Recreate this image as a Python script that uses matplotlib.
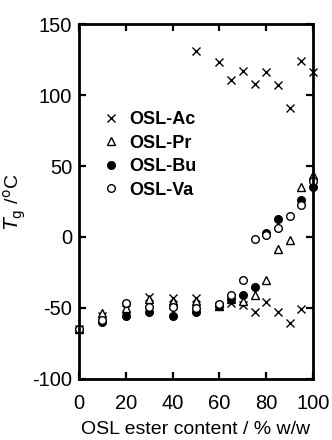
import matplotlib
matplotlib.use('Agg')
import matplotlib.pyplot as plt
import numpy as np

plt.rcParams['font.family'] = ['Liberation Sans', 'DejaVu Sans']

# OSL-Ac shows two transitions
ac_low_x = [0, 10, 20, 30, 40, 50, 60, 65, 70, 75, 80, 85, 90, 95]
ac_low_y = [-65, -56, -51, -42.5, -43.2, -43, -48.6, -46.5, -48, -53, -46, -52.6, -60.4, -51]
ac_high_x = [50, 60, 65, 70, 75, 80, 85, 90, 95, 100]
ac_high_y = [131, 123.5, 111, 117, 107.7, 116, 107, 91, 124, 116]

pr_x = [0, 10, 20, 30, 40, 50, 60, 65, 70, 75, 80, 85, 90, 95, 100]
pr_y = [-65, -53.5, -50, -44, -45, -45, -49, -44, -45, -41, -30.3, -8.7, -2, 35.5, 44]

bu_x = [0, 10, 20, 30, 40, 50, 60, 65, 70, 75, 80, 85, 95, 100]
bu_y = [-65, -60, -56, -53, -56, -52.7, -49, -44, -41, -35.5, 3, 12.5, 26, 35.4]

va_x = [0, 10, 20, 30, 40, 50, 60, 65, 70, 75, 80, 85, 90, 95, 100]
va_y = [-65, -58.5, -46.7, -49.5, -49.5, -50, -47, -41, -30, -1.6, 1.4, 6.6, 14.8, 22.5, 39.6]

xticks = [0, 20, 40, 60, 80, 100]
yticks = [-100, -50, 0, 50, 100, 150]

fig = plt.figure(figsize=(3.32, 4.4), dpi=100)
ax = fig.add_axes([0.238, 0.139, 0.705, 0.806])

ms = 5.5
mew = 1.0
ax.plot(ac_low_x, ac_low_y, ls='', marker='x', ms=ms, mew=mew, color='black', label='OSL-Ac', clip_on=False)
ax.plot(ac_high_x, ac_high_y, ls='', marker='x', ms=ms, mew=mew, color='black', clip_on=False)
ax.plot(pr_x, pr_y, ls='', marker='^', ms=ms, mew=mew, mfc='white', mec='black', label='OSL-Pr', clip_on=False)
ax.plot(bu_x, bu_y, ls='', marker='o', ms=ms, mew=mew, mfc='black', mec='black', label='OSL-Bu', clip_on=False)
ax.plot(va_x, va_y, ls='', marker='o', ms=ms, mew=mew, mfc='white', mec='black', label='OSL-Va', clip_on=False)

ax.set_xlim(0, 100)
ax.set_ylim(-100, 150)
ax.set_xticks(xticks)
ax.set_yticks(yticks)
ax.tick_params(direction='in', length=5, width=1.6, labelsize=14.5,
               top=True, right=True)
ax.tick_params(axis='x', pad=11)
ax.tick_params(axis='y', pad=5)
ax.set_xticklabels([str(t) for t in xticks])
ax.set_yticklabels([str(t) for t in yticks])
for s in ax.spines.values():
    s.set_linewidth(2.0)

ax.set_xlabel('OSL ester content / % w/w', fontsize=14, labelpad=6)
ax.set_ylabel(r'$\mathit{T}_{\mathrm{g}}$ /$\mathrm{^o}$C', fontsize=14, labelpad=3)

leg = ax.legend(loc='upper left', bbox_to_anchor=(0.1, 0.755), frameon=False,
                prop={'weight': 'bold', 'size': 13}, handlelength=1.0,
                handletextpad=0.5, labelspacing=0.36, borderpad=0, borderaxespad=0)

fig.savefig('out.png', dpi=100)
